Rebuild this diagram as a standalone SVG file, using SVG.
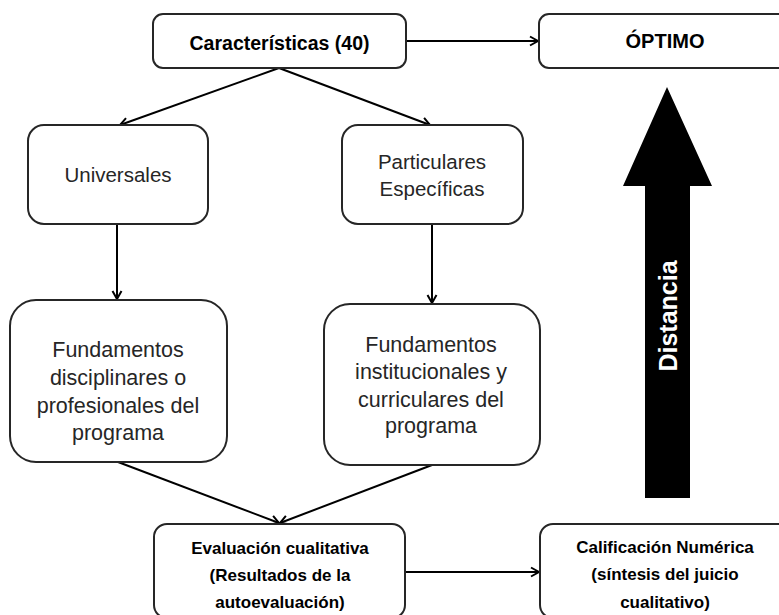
<svg xmlns="http://www.w3.org/2000/svg" width="779" height="615" viewBox="0 0 779 615">
<defs>
<marker id="ah" markerUnits="userSpaceOnUse" markerWidth="12" markerHeight="12" refX="10" refY="6" orient="auto">
<path d="M2,1.5 L10,6 L2,10.5" fill="none" stroke="#000" stroke-width="2"/>
</marker>
<style>
.box{fill:#fff;stroke:#262626;stroke-width:2}
.con{stroke:#000;stroke-width:2;fill:none;marker-end:url(#ah)}
.t{font-family:"Liberation Sans",Arial,sans-serif;text-anchor:middle;fill:#262626}
.b{font-weight:bold;fill:#000}
</style>
</defs>
<rect width="779" height="615" fill="#fff"/>
<g id="connectors">
<line class="con" x1="406" y1="41" x2="538" y2="41"/>
<line class="con" x1="279" y1="68" x2="120" y2="125"/>
<line class="con" x1="279" y1="68" x2="430" y2="125"/>
<line class="con" x1="117" y1="224" x2="117" y2="299"/>
<line class="con" x1="432" y1="224" x2="432" y2="303"/>
<line class="con" x1="118" y1="462" x2="279" y2="523"/>
<line class="con" x1="432" y1="465" x2="280" y2="523"/>
<line class="con" x1="405" y1="572" x2="539" y2="572"/>
</g>
<g id="caracteristicas">
<rect class="box" x="153" y="14" width="253" height="54" rx="10"/>
<text class="t b" x="279.5" y="50" font-size="19.5">Características (40)</text>
</g>
<g id="optimo">
<rect class="box" x="539" y="14" width="252" height="54" rx="10"/>
<text class="t b" x="665" y="48" font-size="20">ÓPTIMO</text>
</g>
<g id="universales">
<rect class="box" x="28" y="125" width="180" height="99" rx="16"/>
<text class="t" x="118" y="182" font-size="20.5">Universales</text>
</g>
<g id="particulares">
<rect class="box" x="342" y="125" width="181" height="99" rx="16"/>
<text class="t" x="432" y="169" font-size="20.5">Particulares</text>
<text class="t" x="432" y="196" font-size="20.5">Específicas</text>
</g>
<g id="fund-disciplinares">
<rect class="box" x="10" y="300" width="217" height="162" rx="26"/>
<text class="t" x="118" y="357" font-size="21.5">Fundamentos</text>
<text class="t" x="118" y="385" font-size="21.5">disciplinares o</text>
<text class="t" x="118" y="413" font-size="21.5">profesionales del</text>
<text class="t" x="118" y="440" font-size="21.5">programa</text>
</g>
<g id="fund-institucionales">
<rect class="box" x="324" y="304" width="216" height="161" rx="26"/>
<text class="t" x="431" y="352" font-size="21.5">Fundamentos</text>
<text class="t" x="431" y="379" font-size="21.5">institucionales y</text>
<text class="t" x="431" y="407" font-size="21.5">curriculares del</text>
<text class="t" x="431" y="433" font-size="21.5">programa</text>
</g>
<g id="evaluacion">
<rect class="box" x="154" y="524" width="251" height="94" rx="13"/>
<text class="t b" x="280" y="554" font-size="17">Evaluación cualitativa</text>
<text class="t b" x="280" y="581" font-size="17">(Resultados de la</text>
<text class="t b" x="280" y="608" font-size="17">autoevaluación)</text>
</g>
<g id="calificacion">
<rect class="box" x="540" y="524" width="251" height="94" rx="13"/>
<text class="t b" x="665" y="553" font-size="17">Calificación Numérica</text>
<text class="t b" x="665" y="580" font-size="17">(síntesis del juicio</text>
<text class="t b" x="665" y="608" font-size="17">cualitativo)</text>
</g>
<g id="distancia">
<polygon points="667,87 712,186 690,186 690,498 645,498 645,186 623,186" fill="#000"/>
<text class="t b" transform="translate(677,316) rotate(-90)" font-size="25" fill="#fff" style="fill:#fff">Distancia</text>
</g>
</svg>
